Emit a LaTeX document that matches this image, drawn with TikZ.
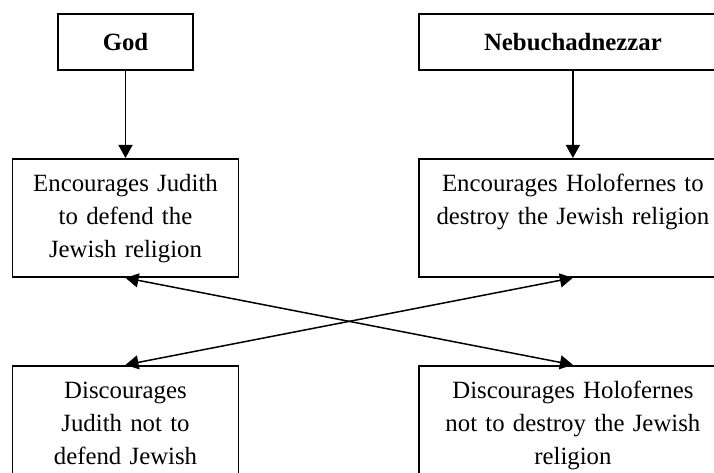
\documentclass[tikz,border=0pt]{standalone}
\usepackage{fontspec}
\setmainfont{Liberation Serif}
\usepackage{tikz}
\usetikzlibrary{positioning,arrows.meta}
\definecolor{jink}{HTML}{000000}
\newcommand{\boxfont}{\fontsize{24.8}{33}\selectfont}
\tikzset{
  head/.style  ={draw=jink, line width=1.9pt, inner sep=0pt, minimum height=56pt,
                 font=\boxfont\bfseries},
  box/.style   ={draw=jink, line width=1.9pt, inner xsep=4pt, inner ysep=0pt,
                 align=center, text height=33pt, text depth=85pt, font=\boxfont},
  lbox/.style  ={box, text width=218pt},
  rbox/.style  ={box, text width=300pt},
  flow/.style  ={-{Triangle[length=13pt, width=14pt]}, line width=1.5pt, draw=jink},
  bflow/.style ={flow, {Triangle[length=13pt, width=14pt]}-{Triangle[length=13pt, width=14pt]}},
}
\begin{document}
\begin{tikzpicture}[x=1pt, y=-1pt]
  \useasboundingbox (0,0) rectangle (714,472);
  \node[head, minimum width=135pt] (god) at (125.5,42) {God};
  \node[head, minimum width=308pt, right=224pt of god] (neb) {Nebuchadnezzar};

  \node[lbox, below=87pt of god] (jud) {Encourages Judith\\to defend the\\Jewish religion};
  \node[rbox, below=87pt of neb] (hol) {Encourages Holofernes to\\destroy the Jewish religion};
  \node[lbox, below=87pt of jud] (djud) {Discourages\\Judith not to\\defend Jewish};
  \node[rbox, below=87pt of hol] (dhol) {Discourages Holofernes\\not to destroy the Jewish\\religion};

  \draw[flow] (god) -- (jud);
  \draw[flow] (neb) -- (hol);
  \draw[bflow] (jud.south) -- (dhol.north);
  \draw[bflow] (djud.north) -- (hol.south);
\end{tikzpicture}
\end{document}
